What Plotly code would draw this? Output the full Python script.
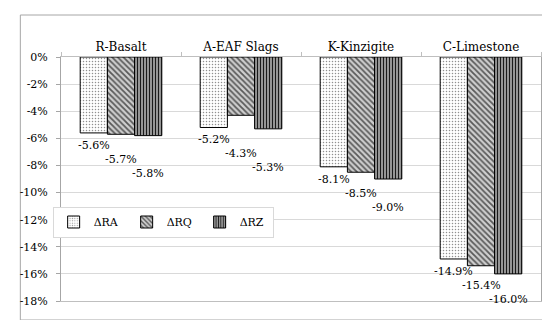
import plotly.graph_objects as go

categories = ["R-Basalt", "A-EAF Slags", "K-Kinzigite", "C-Limestone"]
series_names = ["ΔRA", "ΔRQ", "ΔRZ"]
delta_ra = [-5.6, -5.2, -8.1, -14.9]
delta_rq = [-5.7, -4.3, -8.5, -15.4]
delta_rz = [-5.8, -5.3, -9.0, -16.0]
y_ticks = [0, -2, -4, -6, -8, -10, -12, -14, -16, -18]
y_min, y_max = -18, 0

FONT = "DejaVu Serif"
LABEL_SIZE = 11

patterns = [
    dict(shape=".", bgcolor="#ffffff", fgcolor="#909090", size=3, solidity=0.2, fillmode="replace"),
    dict(shape="\\", bgcolor="#cfcfcf", fgcolor="#5a5a5a", size=4, solidity=0.45, fillmode="replace"),
    dict(shape="|", bgcolor="#d0d0d0", fgcolor="#1a1a1a", size=3, solidity=0.55, fillmode="replace"),
]

L, R, T, B = 49, 17, 49, 27
W, H = 550, 320
pw, ph = W - L - R, H - T - B
BARGAP = 0.32
n_series = len(series_names)
bar_w = pw / len(categories) * (1 - BARGAP) / n_series

def px_x(x):
    return (x - L) / pw

def px_y(y):
    return (H - B - y) / ph

def value_to_px(v):
    return T + (y_max - v) / (y_max - y_min) * ph

fig = go.Figure()
all_vals = [delta_ra, delta_rq, delta_rz]
for name, vals, pat in zip(series_names, all_vals, patterns):
    fig.add_trace(go.Bar(
        name=name, x=categories, y=vals,
        marker=dict(pattern=pat, color="#ffffff", line=dict(color="#000000", width=1)),
        cliponaxis=False,
    ))

# data labels below bar ends, staggered so neighbouring labels do not collide
GAP, LINE_H = 4, 14
for j, cat in enumerate(categories):
    prev_top = None
    for i in range(n_series):
        v = all_vals[i][j]
        natural = value_to_px(v) + GAP
        top = natural if prev_top is None else max(natural, prev_top + LINE_H)
        prev_top = top
        fig.add_annotation(
            x=cat, y=v, xref="x", yref="y", text=f"{v:.1f}%", showarrow=False,
            xshift=(i - (n_series - 1) / 2) * bar_w, yanchor="top",
            yshift=-(top - value_to_px(v)),
            font=dict(family=FONT, size=LABEL_SIZE, color="#000000"),
        )

fig.add_shape(type="rect", xref="paper", yref="paper",
              x0=px_x(8), x1=px_x(543), y0=px_y(312), y1=px_y(7),
              line=dict(color="#a6a6a6", width=1), fillcolor="rgba(0,0,0,0)", layer="below")

fig.update_layout(
    width=W, height=H,
    margin=dict(l=L, r=R, t=T, b=B),
    paper_bgcolor="#ffffff", plot_bgcolor="#ffffff",
    barmode="group", bargap=BARGAP, bargroupgap=0,
    font=dict(family=FONT, size=12, color="#000000"),
    showlegend=True,
    legend=dict(orientation="h", x=px_x(152), y=px_y(214), xanchor="center", yanchor="middle",
                bgcolor="#ffffff", bordercolor="#d9d9d9", borderwidth=1,
                entrywidth=28, entrywidthmode="pixels",
                font=dict(family=FONT, size=11), itemwidth=30, traceorder="normal"),
    xaxis=dict(side="top", type="category", showgrid=False, showline=True, linecolor="#bfbfbf",
               mirror=True, ticks="outside", tickson="boundaries", ticklen=4, tickcolor="#bfbfbf",
               tickfont=dict(family=FONT, size=12), zeroline=False),
    yaxis=dict(range=[y_min, y_max], tickvals=y_ticks, ticktext=[f"{v}%" for v in y_ticks],
               showgrid=True, gridcolor="#d9d9d9", showline=True, linecolor="#a6a6a6", mirror=True,
               ticks="outside", ticklen=4, tickcolor="#a6a6a6", zeroline=False,
               tickfont=dict(family=FONT, size=11), ticklabelstandoff=6),
)

fig.write_html("out.html")
